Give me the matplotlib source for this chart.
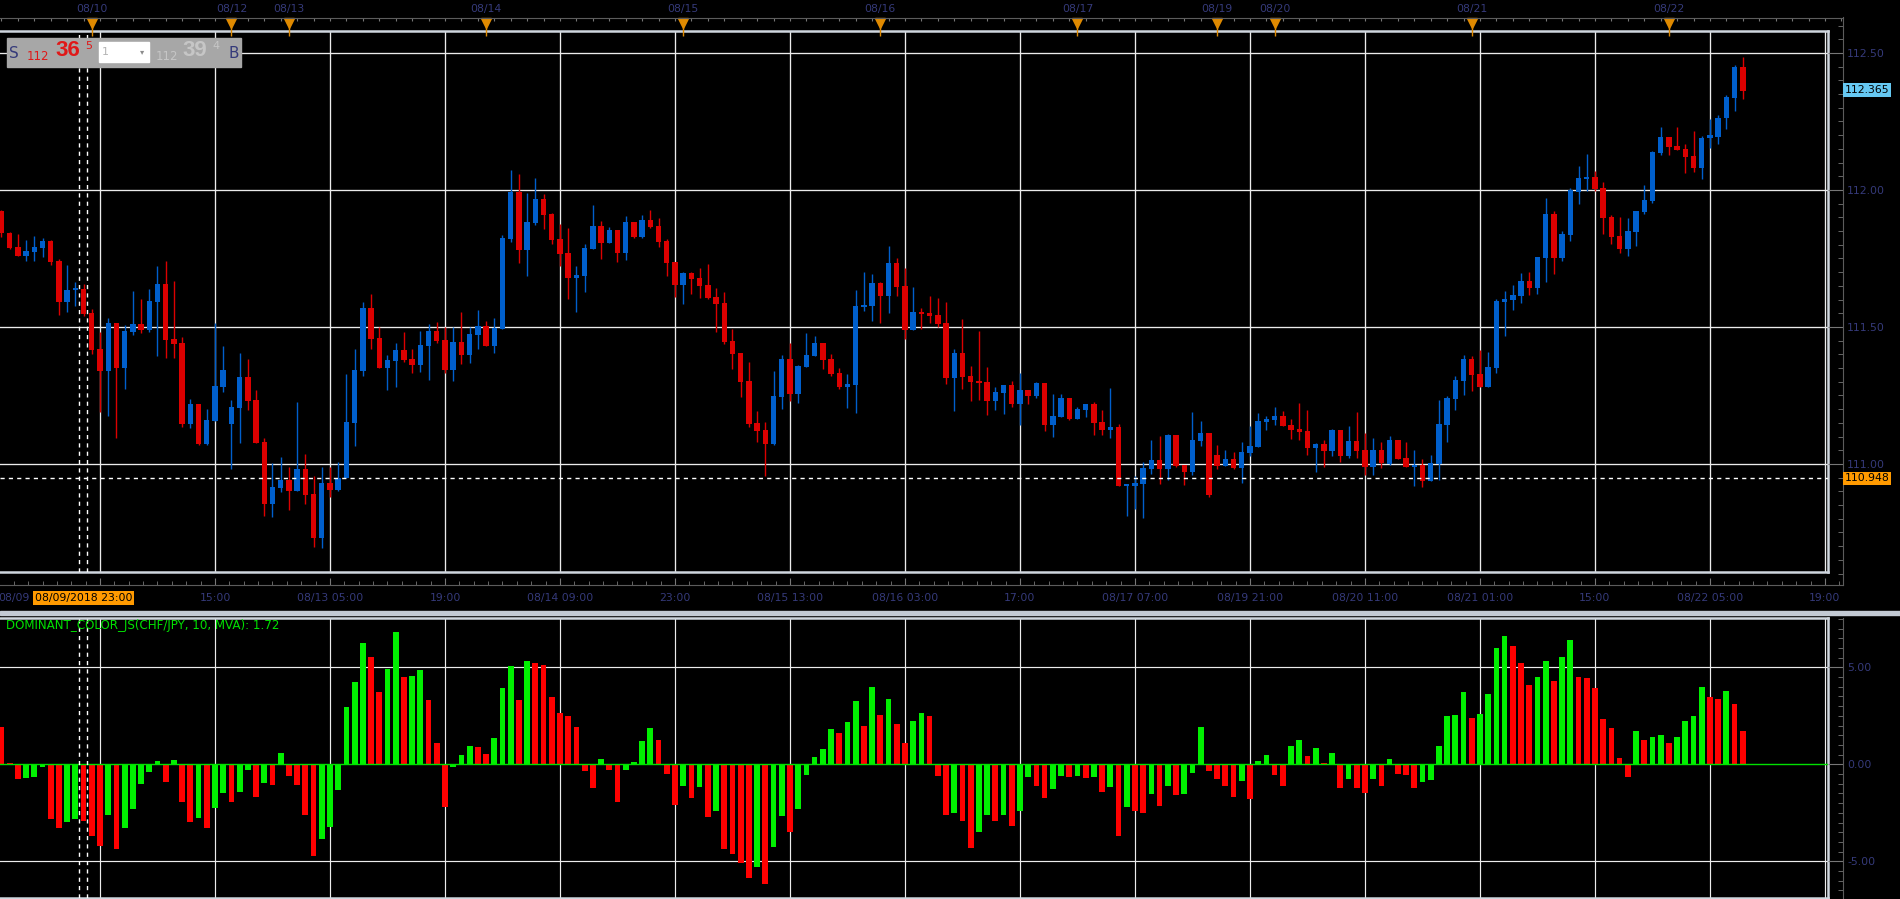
import numpy as np
import matplotlib
matplotlib.use("Agg")
import matplotlib.pyplot as plt
from matplotlib.patches import Rectangle
from matplotlib.ticker import MultipleLocator, FixedLocator
import matplotlib.transforms as mtransforms

plt.rcParams['font.family'] = ['DejaVu Sans']
plt.rcParams['axes.unicode_minus'] = False

# ---- hourly CHF/JPY candles ----
opens = [111.923, 111.844, 111.793, 111.759, 111.774, 111.790, 111.814, 111.741, 111.592, 111.636,
         111.639, 111.551, 111.420, 111.340, 111.515, 111.352, 111.483, 111.511, 111.490, 111.592,
         111.657, 111.456, 111.442, 111.146, 111.219, 111.073, 111.157, 111.281, 111.146, 111.204,
         111.318, 111.234, 111.080, 110.854, 110.913, 110.942, 110.901, 110.982, 110.891, 110.730,
         110.931, 110.905, 110.949, 111.150, 111.340, 111.569, 111.460, 111.350, 111.376, 111.416,
         111.383, 111.361, 111.431, 111.485, 111.452, 111.343, 111.445, 111.398, 111.471, 111.504,
         111.431, 111.493, 111.821, 111.993, 111.782, 111.881, 111.967, 111.912, 111.821, 111.770,
         111.679, 111.686, 111.785, 111.869, 111.807, 111.854, 111.770, 111.883, 111.828, 111.891,
         111.869, 111.814, 111.737, 111.653, 111.697, 111.679, 111.653, 111.610, 111.588, 111.449,
         111.405, 111.303, 111.150, 111.124, 111.073, 111.245, 111.383, 111.255, 111.354, 111.394,
         111.442, 111.383, 111.332, 111.281, 111.288, 111.573, 111.577, 111.661, 111.613, 111.734,
         111.650, 111.489, 111.555, 111.551, 111.544, 111.515, 111.315, 111.405, 111.321, 111.303,
         111.299, 111.230, 111.259, 111.288, 111.219, 111.270, 111.248, 111.296, 111.142, 111.171,
         111.241, 111.164, 111.197, 111.219, 111.153, 111.124, 111.135, 110.920, 110.920, 110.927,
         110.982, 111.015, 110.982, 111.106, 110.996, 110.971, 111.084, 111.113, 111.033, 110.993,
         111.018, 110.985, 111.040, 111.062, 111.153, 111.160, 111.175, 111.142, 111.128, 111.120,
         111.058, 111.073, 111.047, 111.124, 111.030, 111.084, 111.051, 110.990, 111.051, 111.001,
         111.087, 111.023, 110.990, 110.997, 110.939, 111.001, 111.143, 111.237, 111.303, 111.383,
         111.328, 111.280, 111.350, 111.591, 111.598, 111.613, 111.667, 111.642, 111.751, 111.912,
         111.751, 111.835, 111.992, 112.040, 112.047, 112.007, 111.901, 111.832, 111.784, 111.846,
         111.919, 111.959, 112.135, 112.193, 112.160, 112.149, 112.124, 112.080, 112.189, 112.193,
         112.262, 112.335, 112.448]
highs = [111.927, 111.848, 111.839, 111.817, 111.832, 111.825, 111.817, 111.748, 111.726, 111.664,
         111.658, 111.564, 111.482, 111.533, 111.515, 111.507, 111.631, 111.602, 111.639, 111.723,
         111.741, 111.668, 111.464, 111.237, 111.219, 111.201, 111.515, 111.431, 111.234, 111.405,
         111.383, 111.270, 111.095, 111.004, 111.026, 110.989, 111.226, 111.036, 110.956, 110.989,
         110.989, 111.007, 111.328, 111.420, 111.591, 111.620, 111.500, 111.398, 111.442, 111.482,
         111.420, 111.485, 111.511, 111.518, 111.500, 111.500, 111.555, 111.500, 111.562, 111.522,
         111.533, 111.836, 112.073, 112.058, 111.989, 112.044, 111.985, 111.916, 111.876, 111.861,
         111.723, 111.803, 111.945, 111.887, 111.865, 111.854, 111.905, 111.883, 111.909, 111.927,
         111.898, 111.821, 111.737, 111.701, 111.701, 111.715, 111.730, 111.642, 111.628, 111.493,
         111.405, 111.372, 111.193, 111.153, 111.339, 111.398, 111.442, 111.361, 111.478, 111.467,
         111.442, 111.401, 111.350, 111.328, 111.635, 111.701, 111.693, 111.664, 111.796, 111.752,
         111.715, 111.646, 111.569, 111.613, 111.606, 111.591, 111.420, 111.529, 111.358, 111.485,
         111.354, 111.281, 111.289, 111.303, 111.332, 111.270, 111.299, 111.296, 111.255, 111.255,
         111.241, 111.208, 111.219, 111.226, 111.197, 111.277, 111.146, 110.927, 110.956, 111.007,
         111.088, 111.102, 111.110, 111.106, 110.996, 111.190, 111.157, 111.113, 111.069, 111.051,
         111.044, 111.080, 111.139, 111.186, 111.175, 111.208, 111.193, 111.164, 111.223, 111.197,
         111.077, 111.088, 111.128, 111.124, 111.138, 111.189, 111.113, 111.094, 111.080, 111.102,
         111.087, 111.080, 111.050, 111.019, 111.034, 111.233, 111.248, 111.321, 111.397, 111.394,
         111.416, 111.408, 111.602, 111.631, 111.653, 111.697, 111.700, 111.755, 111.970, 111.923,
         111.850, 112.007, 112.087, 112.131, 112.069, 112.029, 111.908, 111.901, 111.897, 111.923,
         112.018, 112.142, 112.229, 112.193, 112.229, 112.167, 112.215, 112.197, 112.259, 112.273,
         112.346, 112.456, 112.485]
lows = [111.827, 111.785, 111.760, 111.741, 111.741, 111.755, 111.726, 111.544, 111.555, 111.577,
        111.541, 111.401, 111.191, 111.176, 111.096, 111.274, 111.471, 111.479, 111.483, 111.394,
        111.387, 111.387, 111.135, 111.131, 111.069, 111.069, 111.157, 111.263, 110.982, 111.077,
        111.197, 111.077, 110.810, 110.807, 110.898, 110.832, 110.901, 110.854, 110.697, 110.694,
        110.880, 110.901, 110.949, 111.066, 111.321, 111.420, 111.350, 111.270, 111.281, 111.372,
        111.332, 111.334, 111.306, 111.441, 111.332, 111.303, 111.365, 111.369, 111.420, 111.431,
        111.405, 111.493, 111.810, 111.734, 111.686, 111.872, 111.858, 111.803, 111.723, 111.602,
        111.555, 111.628, 111.785, 111.748, 111.807, 111.737, 111.745, 111.825, 111.825, 111.861,
        111.792, 111.686, 111.610, 111.584, 111.621, 111.606, 111.603, 111.482, 111.438, 111.347,
        111.245, 111.135, 111.080, 110.956, 111.069, 111.201, 111.230, 111.223, 111.354, 111.394,
        111.347, 111.321, 111.274, 111.204, 111.186, 111.558, 111.522, 111.515, 111.551, 111.613,
        111.456, 111.489, 111.494, 111.516, 111.501, 111.293, 111.193, 111.274, 111.230, 111.234,
        111.179, 111.197, 111.182, 111.208, 111.142, 111.219, 111.241, 111.120, 111.099, 111.171,
        111.161, 111.164, 111.171, 111.106, 111.106, 111.095, 110.920, 110.810, 110.836, 110.803,
        110.963, 110.927, 110.942, 110.989, 110.923, 110.960, 111.066, 110.880, 110.982, 110.993,
        110.982, 110.931, 111.029, 111.062, 111.124, 111.142, 111.139, 111.091, 111.088, 111.033,
        110.971, 110.989, 111.029, 111.008, 111.023, 111.023, 110.960, 110.960, 110.986, 110.997,
        111.019, 110.990, 110.920, 110.917, 110.939, 110.942, 111.080, 111.197, 111.251, 111.266,
        111.280, 111.280, 111.332, 111.467, 111.562, 111.587, 111.616, 111.620, 111.664, 111.693,
        111.740, 111.813, 111.948, 111.996, 111.996, 111.839, 111.802, 111.770, 111.759, 111.795,
        111.912, 111.952, 112.127, 112.127, 112.146, 112.062, 112.065, 112.040, 112.153, 112.167,
        112.222, 112.288, 112.332]
closes = [111.842, 111.790, 111.760, 111.777, 111.792, 111.814, 111.738, 111.592, 111.635, 111.637,
          111.549, 111.416, 111.340, 111.515, 111.352, 111.485, 111.511, 111.490, 111.595, 111.657,
          111.453, 111.439, 111.146, 111.219, 111.073, 111.161, 111.285, 111.343, 111.208, 111.318,
          111.230, 111.077, 110.854, 110.916, 110.942, 110.901, 110.982, 110.887, 110.730, 110.931,
          110.905, 110.949, 111.153, 111.343, 111.569, 111.456, 111.350, 111.380, 111.416, 111.380,
          111.361, 111.434, 111.485, 111.449, 111.343, 111.445, 111.398, 111.474, 111.504, 111.431,
          111.496, 111.825, 111.993, 111.782, 111.883, 111.967, 111.909, 111.817, 111.766, 111.679,
          111.690, 111.788, 111.869, 111.807, 111.854, 111.770, 111.883, 111.828, 111.891, 111.865,
          111.810, 111.734, 111.653, 111.697, 111.675, 111.650, 111.606, 111.584, 111.445, 111.401,
          111.299, 111.146, 111.120, 111.073, 111.248, 111.383, 111.255, 111.358, 111.398, 111.442,
          111.380, 111.328, 111.281, 111.292, 111.577, 111.580, 111.661, 111.613, 111.734, 111.646,
          111.489, 111.555, 111.549, 111.541, 111.512, 111.315, 111.405, 111.317, 111.299, 111.296,
          111.230, 111.263, 111.289, 111.219, 111.270, 111.248, 111.296, 111.142, 111.175, 111.241,
          111.164, 111.201, 111.219, 111.150, 111.124, 111.135, 110.920, 110.923, 110.931, 110.985,
          111.015, 110.982, 111.106, 110.993, 110.971, 111.088, 111.113, 110.887, 110.993, 111.018,
          110.985, 111.044, 111.066, 111.157, 111.164, 111.175, 111.139, 111.124, 111.117, 111.058,
          111.073, 111.047, 111.124, 111.030, 111.084, 111.048, 110.990, 111.051, 111.004, 111.087,
          111.019, 110.990, 110.997, 110.939, 111.004, 111.146, 111.240, 111.306, 111.383, 111.324,
          111.280, 111.354, 111.594, 111.602, 111.616, 111.667, 111.642, 111.755, 111.912, 111.751,
          111.839, 112.000, 112.043, 112.047, 112.003, 111.897, 111.828, 111.784, 111.850, 111.923,
          111.963, 112.138, 112.193, 112.156, 112.146, 112.120, 112.080, 112.189, 112.200, 112.262,
          112.339, 112.448, 112.361]

# ---- DOMINANT_COLOR_JS histogram ----
dominant = [1.92, 0.07, -0.74, -0.69, -0.64, -0.12, -2.80, -3.28, -2.96, -2.80,
            -2.90, -3.68, -4.19, -2.59, -4.35, -3.26, -2.29, -1.00, -0.38, 0.17,
            -0.89, 0.22, -1.92, -2.96, -2.75, -3.26, -2.23, -1.46, -1.92, -1.41,
            -0.27, -1.67, -0.95, -1.05, 0.58, -0.58, -1.05, -2.59, -4.71, -3.83,
            -3.21, -1.31, 2.96, 4.24, 6.25, 5.53, 3.73, 4.91, 6.82, 4.50,
            4.55, 4.86, 3.32, 1.10, -2.18, -0.12, 0.48, 0.95, 0.89, 0.53,
            1.36, 3.93, 5.07, 3.32, 5.33, 5.22, 5.12, 3.47, 2.65, 2.49,
            1.92, -0.33, -1.20, 0.27, -0.27, -1.92, -0.27, 0.12, 1.20, 1.87,
            1.25, -0.50, -2.08, -1.10, -1.72, -1.15, -2.70, -2.39, -4.35, -4.60,
            -5.07, -5.84, -5.27, -6.15, -4.24, -2.65, -3.47, -2.29, -0.53, 0.38,
            0.79, 1.82, 1.62, 2.18, 3.26, 1.98, 3.99, 2.54, 3.37, 2.08,
            1.10, 2.23, 2.65, 2.49, -0.60, -2.59, -2.49, -2.90, -4.30, -3.47,
            -2.59, -2.90, -2.59, -3.16, -2.39, -0.64, -1.10, -1.72, -1.25, -0.58,
            -0.64, -0.58, -0.69, -0.64, -1.41, -1.15, -3.68, -2.18, -2.39, -2.49,
            -1.51, -2.13, -1.10, -1.56, -1.51, -0.43, 1.92, -0.33, -0.74, -1.10,
            -1.67, -0.84, -1.77, 0.17, 0.48, -0.53, -1.10, 0.95, 1.25, 0.43,
            0.84, 0.07, 0.58, -1.20, -0.74, -1.20, -1.46, -0.74, -1.10, 0.27,
            -0.48, -0.53, -1.20, -0.89, -0.79, 0.95, 2.49, 2.54, 3.73, 2.39,
            2.59, 3.63, 6.00, 6.62, 6.10, 5.22, 4.09, 4.50, 5.33, 4.30,
            5.53, 6.41, 4.50, 4.45, 3.93, 2.34, 1.87, 0.33, -0.64, 1.72,
            1.25, 1.41, 1.51, 1.10, 1.41, 2.23, 2.49, 3.99, 3.47, 3.37,
            3.78, 3.11, 1.72]
dominant_side = ("rrrgggrrgg" "rrrgrggggg" "rgrrgrggrg" "grgrgrrrrg" "gggggrrggr"
                 "ggrrrgggrr" "gggrgrrrrr" "rrrgrrgggg" "rrrgrgrgrr" "rrgrggrggg"
                 "ggrggrgrgr" "rggrrrgrrg" "grgrggrrgg" "rgrgrgrgrr" "grgrgggrrr"
                 "rgrggrrggr" "grgrgrrgrg" "rrrggggggr" "ggggrrrggr" "ggrrrrrrrg"
                 "rggrggggrr" "grr")

# axis labels / markers
price_ticks = [111.0, 111.5, 112.0, 112.5]
hist_ticks = [-5.0, 0.0, 5.0]
grid_idx = list(range(12, 223, 14))
time_labels = ['', '15:00', '08/13 05:00', '19:00', '08/14 09:00', '23:00', '08/15 13:00',
               '08/16 03:00', '17:00', '08/17 07:00', '08/19 21:00', '08/20 11:00',
               '08/21 01:00', '15:00', '08/22 05:00', '19:00']
day_idx = [11, 28, 35, 59, 83, 107, 131, 148, 155, 179, 203]
day_labels = ['08/10', '08/12', '08/13', '08/14', '08/15', '08/16', '08/17', '08/19',
              '08/20', '08/21', '08/22']
cursor_idx = 10
cursor_time = '08/09/2018 23:00'
cursor_price = 110.948
last_price = 112.365
indicator_name = 'DOMINANT_COLOR_JS(CHF/JPY, 10, MVA): 1.72'

W, H = 1900, 899
NAVY = '#353a7a'
FRAME = '#cfd6de'
GRID = '#ececec'
UP, DOWN = '#005fcc', '#dc0000'


def fx(px):
    return px / W


def fy(py):
    return 1 - py / H


def px2idx(px):
    return 12 + (px - 100) / 8.214


def py2price(py):
    return 112.5 - (py - 53) / 274.0


def py2val(py):
    return (764.3 - py) / 19.4


fig = plt.figure(figsize=(W / 100, H / 100), dpi=100, facecolor='black')

# ---- main candle panel ----
ax = fig.add_axes([0, fy(572), fx(1828), (572 - 31) / H], facecolor='black')
ax.set_xlim(px2idx(0), px2idx(1828))
ax.set_ylim(py2price(572), py2price(31))
ax.set_xticks(grid_idx)
ax.set_yticks(price_ticks)
ax.tick_params(length=0, labelbottom=False, labelleft=False)
ax.grid(True, color=GRID, lw=0.95, zorder=0)
for s in ['top', 'right', 'bottom']:
    ax.spines[s].set_color(FRAME)
    ax.spines[s].set_linewidth(1.8)
ax.spines['left'].set_visible(False)

x = np.arange(len(opens))
o = np.array(opens)
c = np.array(closes)
cols = [UP if cc >= oo else DOWN for oo, cc in zip(o, c)]
ax.vlines(x, lows, highs, colors=cols, lw=1.0, zorder=2)
body = np.maximum(np.abs(c - o), 0.006)
ax.bar(x, body, bottom=np.minimum(o, c), width=0.66, color=cols, zorder=3)

ax.axhline(cursor_price, color='white', lw=1.0, ls=(0, (3, 3)), zorder=4)
for v in [cursor_idx - 0.5, cursor_idx + 0.45]:
    ax.axvline(v, color='white', lw=1.0, ls=(0, (3, 3)), zorder=4)

# ---- indicator panel ----
ax2 = fig.add_axes([0, fy(898), fx(1828), (898 - 618) / H], facecolor='black')
ax2.set_xlim(px2idx(0), px2idx(1828))
ax2.set_ylim(py2val(898), py2val(618))
ax2.set_xticks(grid_idx)
ax2.set_yticks([-5, 5])
ax2.tick_params(length=0, labelbottom=False, labelleft=False)
ax2.grid(True, color=GRID, lw=0.85, zorder=0)
for s in ['top', 'right', 'bottom']:
    ax2.spines[s].set_color(FRAME)
    ax2.spines[s].set_linewidth(1.8)
ax2.spines['left'].set_visible(False)
hcols = ['#00f000' if s == 'g' else '#ff0000' for s in dominant_side]
ax2.bar(x, dominant, width=0.7, color=hcols, zorder=2)
ax2.axhline(0, color='#00e000', lw=1.0, zorder=3)
for v in [cursor_idx - 0.5, cursor_idx + 0.45]:
    ax2.axvline(v, color='white', lw=1.0, ls=(0, (3, 3)), zorder=4)
ax2.text(fx(6) / fx(1828), py2val(626), indicator_name, color='#00e000', fontsize=8.6,
         va='center', ha='left', zorder=5,
         transform=mtransforms.blended_transform_factory(ax2.transAxes, ax2.transData))

# ---- right price ruler ----
axr = fig.add_axes([fx(1828), fy(585), fx(1843) - fx(1828), (585 - 17) / H])
axr.patch.set_alpha(0)
axr.set_ylim(py2price(585), py2price(17))
axr.set_xticks([])
for s in ['top', 'left', 'bottom']:
    axr.spines[s].set_visible(False)
axr.spines['right'].set_color('#5c5c5c')
axr.yaxis.tick_right()
axr.yaxis.set_major_locator(FixedLocator(price_ticks))
axr.yaxis.set_minor_locator(MultipleLocator(0.05))
axr.yaxis.set_major_formatter(matplotlib.ticker.FormatStrFormatter('%.2f'))
axr.tick_params(axis='y', which='major', direction='in', length=10.8, color='#777777',
                labelcolor=NAVY, labelsize=7.8, pad=3)
axr.tick_params(axis='y', which='minor', direction='in', length=3.6, color='#777777')
tr = mtransforms.blended_transform_factory(axr.transAxes, axr.transData)
axr.text(1.12, last_price, f'{last_price:.3f}', transform=tr, fontsize=7.8, color='black',
         va='center', ha='left', bbox=dict(boxstyle='square,pad=0.15', fc='#66c8f2', ec='none'))
axr.text(1.12, cursor_price, f'{cursor_price:.3f}', transform=tr, fontsize=7.8, color='black',
         va='center', ha='left', bbox=dict(boxstyle='square,pad=0.15', fc='#ff9a00', ec='none'))

# ---- right indicator ruler ----
axr2 = fig.add_axes([fx(1828), fy(899), fx(1843) - fx(1828), (899 - 618) / H])
axr2.patch.set_alpha(0)
axr2.set_ylim(py2val(899), py2val(618))
axr2.set_xticks([])
for s in ['top', 'left', 'bottom']:
    axr2.spines[s].set_visible(False)
axr2.spines['right'].set_color('#5c5c5c')
axr2.yaxis.tick_right()
axr2.yaxis.set_major_locator(FixedLocator(hist_ticks))
axr2.yaxis.set_minor_locator(MultipleLocator(0.5))
axr2.yaxis.set_major_formatter(matplotlib.ticker.FormatStrFormatter('%.2f'))
axr2.tick_params(axis='y', which='major', direction='in', length=10.8, color='#777777',
                 labelcolor=NAVY, labelsize=7.8, pad=3)
axr2.tick_params(axis='y', which='minor', direction='in', length=3.6, color='#777777')

# ---- top date strip ----
axt = fig.add_axes([0, fy(31), fx(1843), 13 / H])
axt.patch.set_alpha(0)
axt.set_xlim(px2idx(0), px2idx(1843))
axt.set_ylim(0, 1)
for s in ['left', 'right', 'bottom']:
    axt.spines[s].set_visible(False)
axt.spines['top'].set_color('#5c5c5c')
axt.set_yticks([])
axt.xaxis.tick_top()
axt.xaxis.set_major_locator(MultipleLocator(2))
axt.tick_params(axis='x', direction='in', length=2.5, color='#777777', labeltop=False)
axt.vlines(day_idx, -0.35, 0.6, color='#e08a00', lw=1.0, clip_on=False)
axt.plot(day_idx, [0.62] * len(day_idx), 'v', color='#e08a00', ms=7.5, clip_on=False)
for d, lab in zip(day_idx, day_labels):
    axt.text(d, (31 - 9) / 13, lab, color=NAVY, fontsize=7.8, ha='center', va='center',
             clip_on=False)

# ---- bottom time strip ----
axb = fig.add_axes([0, fy(585), fx(1843), 13 / H])
axb.patch.set_alpha(0)
axb.set_xlim(px2idx(0), px2idx(1843))
axb.set_ylim(0, 1)
for s in ['left', 'right', 'top']:
    axb.spines[s].set_visible(False)
axb.spines['bottom'].set_color('#5c5c5c')
axb.set_yticks([])
axb.set_xticks(grid_idx, labels=time_labels)
axb.xaxis.set_minor_locator(MultipleLocator(1.75, offset=1.5))
axb.tick_params(axis='x', which='major', direction='in', length=5, color='#777777',
                labelcolor=NAVY, labelsize=7.8, pad=6)
axb.tick_params(axis='x', which='minor', direction='in', length=3, color='#777777')
axb.text(cursor_idx, (585 - 598) / 13, cursor_time, color='black', fontsize=7.8,
         ha='center', va='center', clip_on=False,
         bbox=dict(boxstyle='square,pad=0.2', fc='#ff9a00', ec='none'))
axb.text(px2idx(30), (585 - 598) / 13, '08/09', color=NAVY, fontsize=7.8,
         ha='right', va='center', clip_on=False)

# separator between panels
fig.patches.append(Rectangle((0, fy(615)), 1, 4 / H, transform=fig.transFigure,
                             color='#c3cad4', zorder=0))

# ---- quote box top-left ----
fig.patches.append(Rectangle((fx(7), fy(67)), fx(241) - fx(7), 29 / H,
                             transform=fig.transFigure, color='#a7a7a7', zorder=5))
fig.patches.append(Rectangle((fx(99), fy(62)), fx(149) - fx(99), 20 / H,
                             transform=fig.transFigure, color='white', zorder=6))
quote = [(9, 53, 'S', NAVY, 11, 'normal'), (27, 56, '112', '#e01818', 8.5, 'normal'),
         (55, 51, '36', '#e01818', 16, 'bold'), (85, 46, '5', '#e01818', 8, 'normal'),
         (102, 52, '1', '#b4b4b4', 8, 'normal'), (140, 52, '\u25be', '#8c8c8c', 6, 'normal'),
         (156, 56, '112', '#c6c6c6', 8.5, 'normal'), (182, 51, '39', '#c6c6c6', 16, 'bold'),
         (212, 46, '4', '#c6c6c6', 8, 'normal'), (229, 53, 'B', NAVY, 11, 'normal')]
for qx, qy, t, col, fs, fw in quote:
    fam = ['Liberation Sans', 'DejaVu Sans'] if fw == 'bold' else ['DejaVu Sans']
    fig.text(fx(qx), fy(qy), t, color=col, fontsize=fs, fontweight=fw, family=fam,
             ha='left', va='center', zorder=7)

fig.savefig('out.png', dpi=100, facecolor='black')
